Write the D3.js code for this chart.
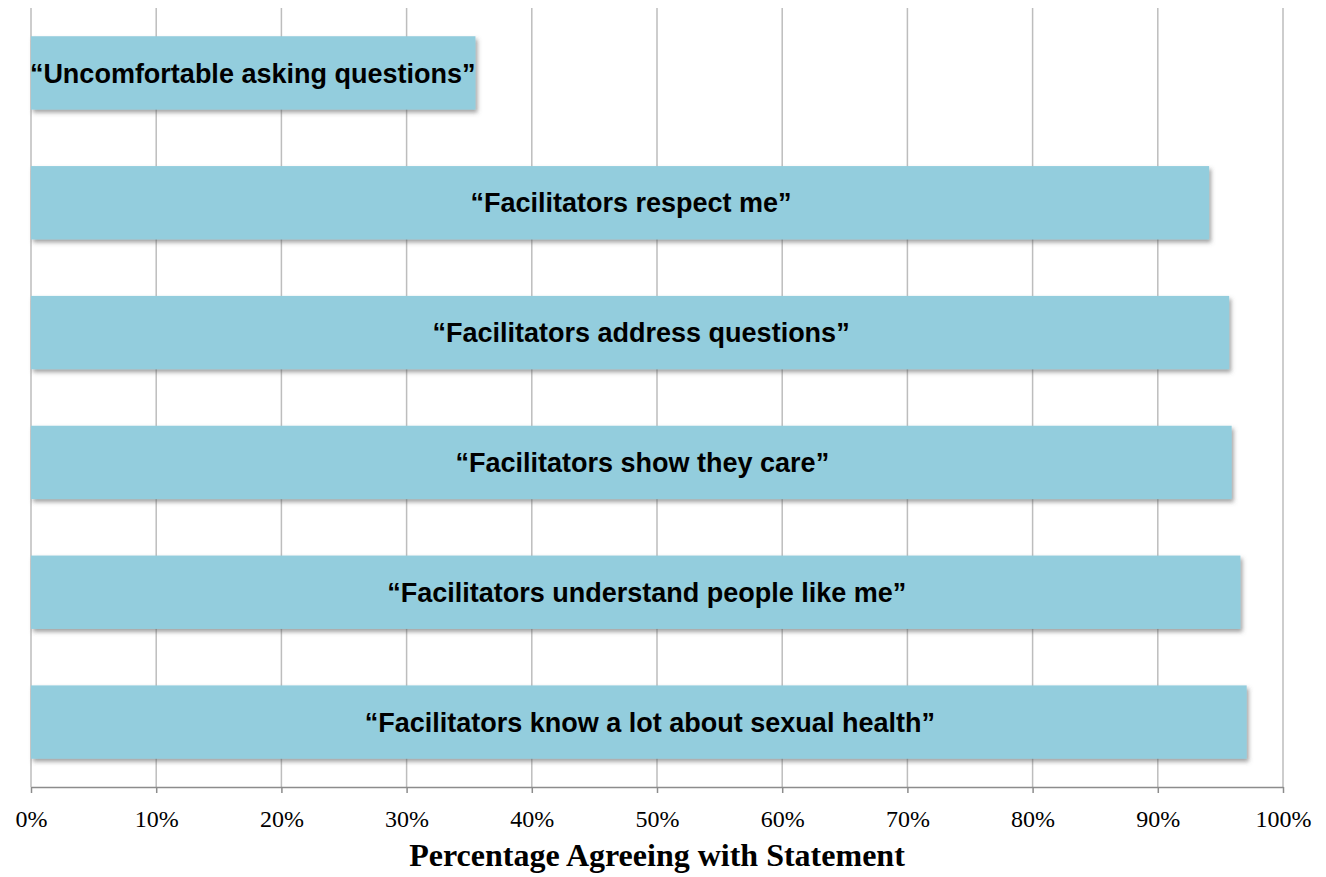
<!DOCTYPE html>
<html>
<head>
<meta charset="utf-8">
<script src="https://cdn.jsdelivr.net/npm/d3@7"></script>
<style>
  body { margin: 0; background: #fff; }
  svg { display: block; }
</style>
</head>
<body>
<svg id="chart" width="1326" height="877"></svg>
<script>
// statements, top to bottom
const statements = [
  "“Uncomfortable asking questions”",
  "“Facilitators respect me”",
  "“Facilitators address questions”",
  "“Facilitators show they care”",
  "“Facilitators understand people like me”",
  "“Facilitators know a lot about sexual health”"
]
const agreeing = [0.355, 0.941, 0.957, 0.959, 0.966, 0.971]
const tickValues = [0, 0.1, 0.2, 0.3, 0.4, 0.5, 0.6, 0.7, 0.8, 0.9, 1.0]
const axisTitle = "Percentage Agreeing with Statement"

const svg = d3.select("#chart")
const margin = {top: 8, right: 43, bottom: 90, left: 31}
const width = 1326, height = 877

const data = statements.map((s, i) => ({ label: s, value: agreeing[i] }))

const x = d3.scaleLinear()
  .domain([0, 1])
  .range([margin.left, width - margin.right])

const y = d3.scaleBand()
  .domain(statements)
  .range([margin.top, height - margin.bottom])
  .paddingInner(0.435)
  .paddingOuter(0.2175)

// drop shadow like the office chart
const defs = svg.append("defs")
defs.append("filter")
    .attr("id", "shadow")
    .attr("x", "-5%").attr("y", "-20%")
    .attr("width", "110%").attr("height", "150%")
  .append("feDropShadow")
    .attr("dx", 2).attr("dy", 3)
    .attr("stdDeviation", 2)
    .attr("flood-color", "#555")
    .attr("flood-opacity", 0.55)

// vertical gridlines
svg.append("g")
  .selectAll("line")
  .data(tickValues)
  .enter()
  .append("line")
    .attr("x1", d => x(d))
    .attr("x2", d => x(d))
    .attr("y1", margin.top)
    .attr("y2", height - margin.bottom)
    .attr("stroke", "#bdbdbd")
    .attr("stroke-width", 1.5)

// bottom axis
const axis = svg.append("g")
  .attr("transform", `translate(0, ${height - margin.bottom})`)
  .call(d3.axisBottom(x)
    .tickValues(tickValues)
    .tickFormat(d3.format(".0%"))
    .tickSize(6)
    .tickSizeOuter(0)
    .tickPadding(17))

axis.select(".domain").attr("stroke", "#8c8c8c").attr("stroke-width", 1.5)
axis.selectAll(".tick line").attr("stroke", "#8c8c8c").attr("stroke-width", 1.5)
axis.selectAll(".tick text")
  .attr("fill", "#000")
  .style("font-family", "'Liberation Serif', 'Times New Roman', serif")
  .style("font-size", "24px")

// bars
svg.append("g")
  .selectAll("rect")
  .data(data)
  .enter()
  .append("rect")
    .attr("x", x(0))
    .attr("y", d => y(d.label))
    .attr("width", d => x(d.value) - x(0))
    .attr("height", y.bandwidth())
    .attr("fill", "#93cddd")
    .attr("filter", "url(#shadow)")

// labels inside bars, a bit right of centre but kept inside the bar
svg.append("g")
  .selectAll("text")
  .data(data)
  .enter()
  .append("text")
    .attr("y", d => y(d.label) + y.bandwidth() / 2)
    .attr("dy", "0.36em")
    .attr("text-anchor", "middle")
    .style("font-family", "'Liberation Sans', Arial, sans-serif")
    .style("font-weight", "bold")
    .style("font-size", "27px")
    .text(d => d.label)
    .attr("x", function(d) {
      const half = this.getComputedTextLength() / 2
      const mid = (x(0) + x(d.value)) / 2 + 11
      return Math.min(mid, x(d.value) - half)
    })

svg.append("text")
  .attr("x", (x(0) + x(1)) / 2)
  .attr("y", 866)
  .attr("text-anchor", "middle")
  .style("font-family", "'Liberation Serif', 'Times New Roman', serif")
  .style("font-weight", "bold")
  .style("font-size", "32px")
  .text(axisTitle)
</script>
</body>
</html>
